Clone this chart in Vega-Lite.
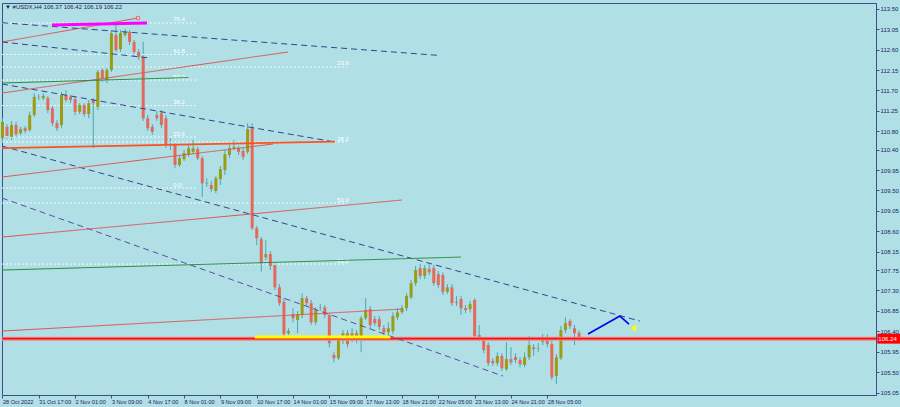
{
"$schema": "https://vega.github.io/schema/vega-lite/v6.json",
"width": 874, "height": 392,
"autosize": {"type": "none"},
"padding": {"left": 2, "top": 3, "right": 24, "bottom": 12},
"background": "#B0E0E6",
"config": {"view": {"stroke": "#3c4c8c", "strokeWidth": 1}, "font": "Liberation Sans", "scale": {"continuousPadding": 0}},
"title": {"text": "▼ #USDX,H4  106.37 106.42 106.19 106.22", "anchor": "start", "frame": "group", "orient": "top", "offset": -12.5, "baseline": "bottom", "fontSize": 6, "font": "Liberation Sans", "fontWeight": "normal", "color": "#1a2050", "dx": 3},
"resolve": {"axis": {"x": "independent", "y": "independent"}},
"datasets": {
"bars": [
{"i":0,"o":110.65,"h":111.09,"l":110.57,"c":111.01},
{"i":1,"o":110.90,"h":110.96,"l":110.63,"c":110.70},
{"i":2,"o":110.68,"h":111.03,"l":110.61,"c":110.94},
{"i":3,"o":110.94,"h":111.01,"l":110.68,"c":110.74},
{"i":4,"o":110.76,"h":110.90,"l":110.72,"c":110.85},
{"i":5,"o":110.87,"h":110.92,"l":110.76,"c":110.81},
{"i":6,"o":110.83,"h":111.23,"l":110.79,"c":111.16},
{"i":7,"o":111.16,"h":111.64,"l":111.12,"c":111.56},
{"i":8,"o":111.56,"h":111.62,"l":111.49,"c":111.55},
{"i":9,"o":111.53,"h":111.64,"l":111.49,"c":111.58},
{"i":10,"o":111.53,"h":111.58,"l":111.20,"c":111.27},
{"i":11,"o":111.31,"h":111.36,"l":110.92,"c":110.98},
{"i":12,"o":110.98,"h":111.05,"l":110.81,"c":110.87},
{"i":13,"o":110.94,"h":111.67,"l":110.87,"c":111.60},
{"i":14,"o":111.60,"h":111.71,"l":111.45,"c":111.49},
{"i":15,"o":111.56,"h":111.60,"l":111.42,"c":111.49},
{"i":16,"o":111.51,"h":111.56,"l":111.16,"c":111.23},
{"i":17,"o":111.23,"h":111.42,"l":111.18,"c":111.38},
{"i":18,"o":111.38,"h":111.42,"l":111.12,"c":111.18},
{"i":19,"o":111.18,"h":111.49,"l":111.09,"c":111.42},
{"i":20,"o":111.49,"h":111.53,"l":110.43,"c":111.42},
{"i":21,"o":111.34,"h":112.15,"l":111.27,"c":112.11},
{"i":22,"o":112.15,"h":112.19,"l":111.89,"c":111.97},
{"i":23,"o":111.93,"h":112.22,"l":111.86,"c":112.15},
{"i":24,"o":112.15,"h":113.03,"l":112.11,"c":112.96},
{"i":25,"o":112.92,"h":113.14,"l":112.55,"c":112.59},
{"i":26,"o":112.61,"h":113.03,"l":112.55,"c":112.96},
{"i":27,"o":112.92,"h":113.05,"l":112.88,"c":112.99},
{"i":28,"o":112.99,"h":113.03,"l":112.70,"c":112.77},
{"i":29,"o":112.77,"h":112.81,"l":112.46,"c":112.55},
{"i":30,"o":112.55,"h":112.61,"l":112.37,"c":112.44},
{"i":31,"o":112.44,"h":112.77,"l":111.03,"c":111.09},
{"i":32,"o":111.09,"h":111.16,"l":110.81,"c":110.87},
{"i":33,"o":110.90,"h":110.96,"l":110.72,"c":110.79},
{"i":34,"o":111.16,"h":111.25,"l":111.03,"c":111.09},
{"i":35,"o":111.20,"h":111.27,"l":110.87,"c":110.94},
{"i":36,"o":111.09,"h":111.16,"l":110.43,"c":110.50},
{"i":37,"o":110.52,"h":110.65,"l":110.39,"c":110.51},
{"i":38,"o":110.50,"h":110.54,"l":109.99,"c":110.06},
{"i":39,"o":110.06,"h":110.28,"l":110.02,"c":110.21},
{"i":40,"o":110.19,"h":110.39,"l":110.15,"c":110.32},
{"i":41,"o":110.28,"h":110.50,"l":110.24,"c":110.43},
{"i":42,"o":110.35,"h":110.61,"l":110.30,"c":110.43},
{"i":43,"o":110.41,"h":110.46,"l":110.17,"c":110.21},
{"i":44,"o":110.21,"h":110.26,"l":109.36,"c":109.66},
{"i":45,"o":109.66,"h":109.77,"l":109.58,"c":109.65},
{"i":46,"o":109.62,"h":109.71,"l":109.47,"c":109.53},
{"i":47,"o":109.49,"h":109.82,"l":109.44,"c":109.77},
{"i":48,"o":109.75,"h":110.04,"l":109.62,"c":109.97},
{"i":49,"o":109.95,"h":110.39,"l":109.84,"c":110.30},
{"i":50,"o":110.28,"h":110.50,"l":110.21,"c":110.43},
{"i":51,"o":110.43,"h":110.61,"l":110.39,"c":110.46},
{"i":52,"o":110.43,"h":110.48,"l":110.28,"c":110.35},
{"i":53,"o":110.37,"h":110.43,"l":110.17,"c":110.24},
{"i":54,"o":110.35,"h":110.98,"l":110.30,"c":110.85},
{"i":55,"o":110.87,"h":110.98,"l":108.63,"c":108.67},
{"i":56,"o":108.67,"h":108.72,"l":108.30,"c":108.45},
{"i":57,"o":108.43,"h":108.48,"l":107.71,"c":107.90},
{"i":58,"o":108.03,"h":108.41,"l":107.97,"c":108.10},
{"i":59,"o":108.10,"h":108.17,"l":107.75,"c":107.84},
{"i":60,"o":107.86,"h":107.92,"l":107.31,"c":107.37},
{"i":61,"o":107.37,"h":107.44,"l":106.96,"c":107.02},
{"i":62,"o":107.05,"h":107.14,"l":106.27,"c":106.34},
{"i":63,"o":106.36,"h":106.47,"l":106.32,"c":106.41},
{"i":64,"o":106.78,"h":106.91,"l":106.60,"c":106.69},
{"i":65,"o":106.65,"h":106.85,"l":106.36,"c":106.78},
{"i":66,"o":106.76,"h":107.24,"l":106.69,"c":107.13},
{"i":67,"o":107.13,"h":107.18,"l":106.96,"c":107.02},
{"i":68,"o":107.02,"h":107.09,"l":106.54,"c":106.60},
{"i":69,"o":106.60,"h":106.93,"l":106.54,"c":106.87},
{"i":70,"o":106.93,"h":107.00,"l":106.85,"c":106.92},
{"i":71,"o":106.93,"h":106.98,"l":106.69,"c":106.76},
{"i":72,"o":106.76,"h":106.80,"l":106.05,"c":106.14},
{"i":73,"o":105.88,"h":105.94,"l":105.72,"c":105.81},
{"i":74,"o":105.81,"h":106.30,"l":105.77,"c":106.21},
{"i":75,"o":106.19,"h":106.43,"l":106.12,"c":106.36},
{"i":76,"o":106.36,"h":106.43,"l":106.05,"c":106.12},
{"i":77,"o":106.23,"h":106.47,"l":106.16,"c":106.36},
{"i":78,"o":106.36,"h":106.43,"l":106.14,"c":106.21},
{"i":79,"o":106.23,"h":106.74,"l":105.94,"c":106.69},
{"i":80,"o":106.69,"h":107.13,"l":106.65,"c":106.87},
{"i":81,"o":106.89,"h":106.96,"l":106.47,"c":106.54},
{"i":82,"o":106.67,"h":106.74,"l":106.52,"c":106.58},
{"i":83,"o":106.67,"h":106.74,"l":106.43,"c":106.50},
{"i":84,"o":106.47,"h":106.54,"l":106.32,"c":106.38},
{"i":85,"o":106.38,"h":106.60,"l":106.30,"c":106.47},
{"i":86,"o":106.41,"h":106.82,"l":106.34,"c":106.74},
{"i":87,"o":106.71,"h":106.91,"l":106.65,"c":106.82},
{"i":88,"o":106.82,"h":106.98,"l":106.78,"c":106.91},
{"i":89,"o":106.91,"h":107.24,"l":106.85,"c":107.18},
{"i":90,"o":107.15,"h":107.53,"l":107.11,"c":107.46},
{"i":91,"o":107.46,"h":107.84,"l":107.40,"c":107.75},
{"i":92,"o":107.79,"h":107.88,"l":107.55,"c":107.62},
{"i":93,"o":107.62,"h":107.86,"l":107.55,"c":107.79},
{"i":94,"o":107.77,"h":107.88,"l":107.64,"c":107.70},
{"i":95,"o":107.79,"h":107.86,"l":107.40,"c":107.46},
{"i":96,"o":107.66,"h":107.73,"l":107.35,"c":107.42},
{"i":97,"o":107.64,"h":107.70,"l":107.20,"c":107.27},
{"i":98,"o":107.27,"h":107.44,"l":107.22,"c":107.37},
{"i":99,"o":107.37,"h":107.44,"l":106.96,"c":107.02},
{"i":100,"o":107.05,"h":107.18,"l":106.96,"c":107.03},
{"i":101,"o":107.11,"h":107.18,"l":106.76,"c":106.91},
{"i":102,"o":106.91,"h":106.98,"l":106.80,"c":106.87},
{"i":103,"o":106.89,"h":107.07,"l":106.82,"c":107.00},
{"i":104,"o":107.09,"h":107.13,"l":106.25,"c":106.30},
{"i":105,"o":106.32,"h":106.54,"l":106.19,"c":106.25},
{"i":106,"o":106.21,"h":106.27,"l":105.92,"c":105.99},
{"i":107,"o":106.10,"h":106.16,"l":105.64,"c":105.70},
{"i":108,"o":105.75,"h":105.81,"l":105.64,"c":105.70},
{"i":109,"o":105.70,"h":105.94,"l":105.64,"c":105.86},
{"i":110,"o":105.86,"h":105.92,"l":105.53,"c":105.59},
{"i":111,"o":105.57,"h":106.16,"l":105.53,"c":105.79},
{"i":112,"o":105.79,"h":106.05,"l":105.66,"c":105.72},
{"i":113,"o":105.83,"h":105.92,"l":105.70,"c":105.77},
{"i":114,"o":105.77,"h":105.83,"l":105.61,"c":105.68},
{"i":115,"o":105.66,"h":105.94,"l":105.61,"c":105.83},
{"i":116,"o":105.83,"h":106.30,"l":105.77,"c":106.10},
{"i":117,"o":106.05,"h":106.12,"l":105.86,"c":106.01},
{"i":118,"o":106.03,"h":106.14,"l":105.94,"c":106.02},
{"i":119,"o":106.17,"h":106.34,"l":106.10,"c":106.27},
{"i":120,"o":106.27,"h":106.34,"l":106.05,"c":106.12},
{"i":121,"o":106.12,"h":106.19,"l":105.33,"c":105.39},
{"i":122,"o":105.42,"h":105.90,"l":105.24,"c":105.83},
{"i":123,"o":105.81,"h":106.52,"l":105.77,"c":106.43},
{"i":124,"o":106.43,"h":106.71,"l":106.36,"c":106.58},
{"i":125,"o":106.63,"h":106.67,"l":106.45,"c":106.52},
{"i":126,"o":106.47,"h":106.54,"l":106.10,"c":106.36},
{"i":127,"o":106.37,"h":106.42,"l":106.19,"c":106.22}
],
"segs": [
{"id":"red1","i1":-0.1,"p1":112.767,"i2":29.86,"p2":113.295},
{"id":"dash1","i1":-0.1,"p1":113.191,"i2":96.37,"p2":112.470},
{"id":"dash2","i1":-0.1,"p1":112.767,"i2":32.5,"p2":112.415},
{"id":"dash3","i1":-0.1,"p1":111.842,"i2":73.25,"p2":110.566},
{"id":"dash4","i1":-0.1,"p1":110.478,"i2":140.4,"p2":106.627},
{"id":"dash5","i1":-0.1,"p1":109.334,"i2":110.25,"p2":105.416},
{"id":"red2","i1":-0.1,"p1":111.644,"i2":62.9,"p2":112.547},
{"id":"green1","i1":-0.1,"p1":111.864,"i2":40.9,"p2":111.985},
{"id":"red3","i1":-0.1,"p1":109.796,"i2":59.6,"p2":110.522},
{"id":"red4","i1":-0.1,"p1":108.475,"i2":88.0,"p2":109.290},
{"id":"green2","i1":-0.1,"p1":107.749,"i2":101.0,"p2":108.035},
{"id":"red5","i1":-0.1,"p1":106.407,"i2":88.0,"p2":106.891}
],
"thick": [
{"id":"orange","i1":-0.1,"p1":110.434,"i2":73.25,"p2":110.577},
{"id":"mag","i1":10.91,"p1":113.141,"i2":31.84,"p2":113.185},
{"id":"yellow","i1":55.6,"p1":106.275,"i2":85.4,"p2":106.275},
{"id":"blue","i1":128.97,"p1":106.341,"i2":136.0,"p2":106.737},
{"id":"blue","i1":136.0,"p1":106.737,"i2":138.0,"p2":106.561}
],
"fib": [
{"lvl":"76.4","p":113.185,"x1":-0.1,"x2":43,"lx":37.6},
{"lvl":"61.8","p":112.492,"x1":-0.1,"x2":43,"lx":37.6},
{"lvl":"50.0","p":111.930,"x1":-0.1,"x2":43,"lx":37.6},
{"lvl":"38.2","p":111.369,"x1":-0.1,"x2":43,"lx":37.6},
{"lvl":"23.6","p":110.676,"x1":-0.1,"x2":43,"lx":37.6},
{"lvl":"0.0","p":109.554,"x1":-0.1,"x2":43,"lx":37.6},
{"lvl":"23.6","p":112.217,"x1":-0.1,"x2":75.9,"lx":73.7},
{"lvl":"38.2","p":110.566,"x1":-0.1,"x2":75.9,"lx":73.7},
{"lvl":"50.0","p":109.224,"x1":-0.1,"x2":75.9,"lx":73.7},
{"lvl":"61.8","p":107.881,"x1":-0.1,"x2":75.9,"lx":73.7}
],
"marks": [
{"what":"anchor","i":29.86,"p":113.295},
{"what":"arrow","i":139.3,"p":106.451}
],
"box": [{"x1":192.7,"x2":197.9,"p1":106.13,"p2":106.35,"p":106.24,"t":"106.24"}]
},
"layer": [
{
"data": {"name": "bars"},
"mark": {"type": "rule", "color": "#4aa6b4", "strokeWidth": 1},
"encoding": {
"x": {"field": "i", "type": "quantitative", "scale": {"domain": [-0.1, 192.4], "nice": false, "zero": false, "padding": 0},
 "axis": {"orient": "bottom", "values": [0,8,16,24,32,40,48,56,64,72,80,88,96,104,112,120], "labelExpr": "['28 Oct 2022','31 Oct 17:00','2 Nov 01:00','3 Nov 09:00','4 Nov 17:00','8 Nov 01:00','9 Nov 09:00','10 Nov 17:00','14 Nov 01:00','15 Nov 09:00','17 Nov 13:00','18 Nov 21:00','22 Nov 05:00','23 Nov 13:00','24 Nov 21:00','28 Nov 05:00'][round(datum.value/8)]", "labelAlign": "left", "labelBaseline": "top", "labelPadding": 1, "labelFontSize": 5.6, "labelColor": "#1a2060", "tickSize": 3, "tickColor": "#3c4c8c", "domain": false, "grid": false, "title": null, "labelOverlap": false, "labelFlush": false}},
"y": {"field": "l", "type": "quantitative", "scale": {"domain": [105.0, 113.625], "nice": false, "zero": false, "padding": 0},
 "axis": {"orient": "right", "values": [113.5,113.05,112.6,112.15,111.7,111.25,110.8,110.4,109.95,109.5,109.05,108.6,108.15,107.75,107.3,106.85,106.4,105.95,105.5,105.05], "format": ".2f", "labelFontSize": 6, "labelColor": "#1a2060", "labelPadding": 1, "tickSize": 3, "tickColor": "#3c4c8c", "domainColor": "#3c4c8c", "grid": false, "title": null, "labelOverlap": false, "labelFlush": false}},
"y2": {"field": "h"}
}
},
{
"data": {"name": "fib"},
"mark": {"type": "rule", "color": "#ffffff", "strokeDash": [2, 2], "strokeWidth": 1, "opacity": 0.85},
"encoding": {
"x": {"field": "x1", "type": "quantitative", "scale": {"domain": [-0.1, 192.4], "nice": false, "zero": false, "padding": 0}, "axis": null},
"x2": {"field": "x2"},
"y": {"field": "p", "type": "quantitative", "scale": {"domain": [105.0, 113.625], "nice": false, "zero": false, "padding": 0}, "axis": null}
}
},
{
"data": {"name": "fib"},
"mark": {"type": "text", "color": "#ffffff", "fontSize": 6, "align": "left", "baseline": "bottom", "dy": -0.5},
"encoding": {
"x": {"field": "lx", "type": "quantitative", "scale": {"domain": [-0.1, 192.4], "nice": false, "zero": false, "padding": 0}, "axis": null},
"y": {"field": "p", "type": "quantitative", "scale": {"domain": [105.0, 113.625], "nice": false, "zero": false, "padding": 0}, "axis": null},
"text": {"field": "lvl"}
}
},
{
"data": {"name": "bars"},
"mark": {"type": "bar", "size": 3},
"encoding": {
"x": {"field": "i", "type": "quantitative", "scale": {"domain": [-0.1, 192.4], "nice": false, "zero": false, "padding": 0}, "axis": null},
"y": {"field": "o", "type": "quantitative", "scale": {"domain": [105.0, 113.625], "nice": false, "zero": false, "padding": 0}, "axis": null},
"y2": {"field": "c"},
"color": {"condition": {"test": "datum.c >= datum.o", "value": "#9c9c14"}, "value": "#e4695a"}
}
},
{
"data": {"name": "box"},
"mark": {"type": "rule", "color": "#f08a8a", "strokeWidth": 4},
"encoding": {
"y": {"field": "p", "type": "quantitative", "scale": {"domain": [105.0, 113.625], "nice": false, "zero": false, "padding": 0}, "axis": null}
}
},
{
"data": {"name": "box"},
"mark": {"type": "rule", "color": "#ff1010", "strokeWidth": 1.6},
"encoding": {
"y": {"field": "p", "type": "quantitative", "scale": {"domain": [105.0, 113.625], "nice": false, "zero": false, "padding": 0}, "axis": null}
}
},
{
"data": {"name": "segs"},
"mark": {"type": "rule", "strokeWidth": 1},
"encoding": {
"x": {"field": "i1", "type": "quantitative", "scale": {"domain": [-0.1, 192.4], "nice": false, "zero": false, "padding": 0}, "axis": null},
"x2": {"field": "i2"},
"y": {"field": "p1", "type": "quantitative", "scale": {"domain": [105.0, 113.625], "nice": false, "zero": false, "padding": 0}, "axis": null},
"y2": {"field": "p2"},
"color": {"field": "id", "type": "nominal", "legend": null, "scale": {"domain": ["red1","dash1","dash2","dash3","dash4","dash5","red2","green1","red3","red4","green2","red5"], "range": ["#e05050","#34448a","#34448a","#34448a","#34448a","#5a4aa8","#e05050","#2a8a3a","#e05050","#e05050","#2a8a3a","#e05050"]}},
"strokeDash": {"field": "id", "type": "nominal", "legend": null, "scale": {"domain": ["red1","dash1","dash2","dash3","dash4","dash5","red2","green1","red3","red4","green2","red5"], "range": [[1,0],[6,4],[6,4],[6,4],[6,4],[6,4],[1,0],[1,0],[1,0],[1,0],[1,0],[1,0]]}}
}
},
{
"data": {"name": "thick"},
"transform": [{"filter": "datum.id == 'orange'"}],
"mark": {"type": "rule", "color": "#ff5020", "strokeWidth": 1.8},
"encoding": {
"x": {"field": "i1", "type": "quantitative", "scale": {"domain": [-0.1, 192.4], "nice": false, "zero": false, "padding": 0}, "axis": null},
"x2": {"field": "i2"},
"y": {"field": "p1", "type": "quantitative", "scale": {"domain": [105.0, 113.625], "nice": false, "zero": false, "padding": 0}, "axis": null},
"y2": {"field": "p2"}
}
},
{
"data": {"name": "thick"},
"transform": [{"filter": "datum.id == 'mag'"}],
"mark": {"type": "rule", "color": "#ff00ff", "strokeWidth": 3},
"encoding": {
"x": {"field": "i1", "type": "quantitative", "scale": {"domain": [-0.1, 192.4], "nice": false, "zero": false, "padding": 0}, "axis": null},
"x2": {"field": "i2"},
"y": {"field": "p1", "type": "quantitative", "scale": {"domain": [105.0, 113.625], "nice": false, "zero": false, "padding": 0}, "axis": null},
"y2": {"field": "p2"}
}
},
{
"data": {"name": "thick"},
"transform": [{"filter": "datum.id == 'yellow'"}],
"mark": {"type": "rule", "color": "#ffff00", "strokeWidth": 3},
"encoding": {
"x": {"field": "i1", "type": "quantitative", "scale": {"domain": [-0.1, 192.4], "nice": false, "zero": false, "padding": 0}, "axis": null},
"x2": {"field": "i2"},
"y": {"field": "p1", "type": "quantitative", "scale": {"domain": [105.0, 113.625], "nice": false, "zero": false, "padding": 0}, "axis": null},
"y2": {"field": "p2"}
}
},
{
"data": {"name": "thick"},
"transform": [{"filter": "datum.id == 'blue'"}],
"mark": {"type": "rule", "color": "#0000ee", "strokeWidth": 1.6},
"encoding": {
"x": {"field": "i1", "type": "quantitative", "scale": {"domain": [-0.1, 192.4], "nice": false, "zero": false, "padding": 0}, "axis": null},
"x2": {"field": "i2"},
"y": {"field": "p1", "type": "quantitative", "scale": {"domain": [105.0, 113.625], "nice": false, "zero": false, "padding": 0}, "axis": null},
"y2": {"field": "p2"}
}
},
{
"data": {"name": "marks"},
"transform": [{"filter": "datum.what == 'anchor'"}],
"mark": {"type": "point", "shape": "square", "size": 10, "stroke": "#e05050", "fill": "#f4d0d0", "filled": false, "strokeWidth": 1},
"encoding": {
"x": {"field": "i", "type": "quantitative", "scale": {"domain": [-0.1, 192.4], "nice": false, "zero": false, "padding": 0}, "axis": null},
"y": {"field": "p", "type": "quantitative", "scale": {"domain": [105.0, 113.625], "nice": false, "zero": false, "padding": 0}, "axis": null}
}
},
{
"data": {"name": "marks"},
"transform": [{"filter": "datum.what == 'arrow'"}],
"mark": {"type": "point", "shape": "triangle-up", "size": 45, "fill": "#ffff00", "filled": true, "opacity": 1, "angle": 145},
"encoding": {
"x": {"field": "i", "type": "quantitative", "scale": {"domain": [-0.1, 192.4], "nice": false, "zero": false, "padding": 0}, "axis": null},
"y": {"field": "p", "type": "quantitative", "scale": {"domain": [105.0, 113.625], "nice": false, "zero": false, "padding": 0}, "axis": null}
}
},
{
"data": {"name": "box"},
"mark": {"type": "rect", "color": "#ff0000"},
"encoding": {
"x": {"field": "x1", "type": "quantitative", "scale": {"domain": [-0.1, 192.4], "nice": false, "zero": false, "padding": 0}, "axis": null},
"x2": {"field": "x2"},
"y": {"field": "p1", "type": "quantitative", "scale": {"domain": [105.0, 113.625], "nice": false, "zero": false, "padding": 0}, "axis": null},
"y2": {"field": "p2"}
}
},
{
"data": {"name": "box"},
"mark": {"type": "text", "color": "#ffffff", "fontSize": 6, "align": "left", "baseline": "middle", "dx": 1},
"encoding": {
"x": {"field": "x1", "type": "quantitative", "scale": {"domain": [-0.1, 192.4], "nice": false, "zero": false, "padding": 0}, "axis": null},
"y": {"field": "p", "type": "quantitative", "scale": {"domain": [105.0, 113.625], "nice": false, "zero": false, "padding": 0}, "axis": null},
"text": {"field": "t"}
}
}
]
}
